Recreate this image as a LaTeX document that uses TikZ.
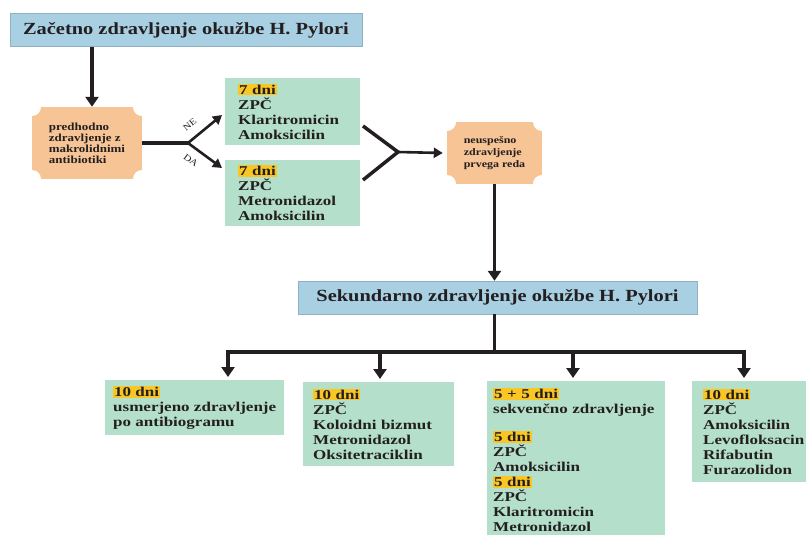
\documentclass[tikz,border=0pt]{standalone}
\usepackage{fontspec}
\setmainfont{Liberation Serif}[FakeStretch=1.2]
\newfontfamily\drugfont{Liberation Serif}[FakeStretch=1.26]
\usepackage{xcolor}
\usepackage{tikz}
\usetikzlibrary{arrows.meta}

\definecolor{titleblue}{HTML}{A9D0E2}
\definecolor{drugsgreen}{HTML}{B4DFCB}
\definecolor{plaqueorange}{HTML}{F6C495}
\definecolor{dayyellow}{HTML}{F9C623}
\definecolor{inkblack}{HTML}{231F20}
\setlength{\fboxsep}{1pt}
\newcommand{\days}[1]{\colorbox{dayyellow}{#1}}

\tikzset{
  titlebox/.style={fill=titleblue, draw=titleblue!85!black, line width=0.4pt, text=inkblack,
    font=\fontsize{17}{20}\selectfont\bfseries, minimum height=33pt, inner sep=0pt},
  drugbox/.style={fill=drugsgreen, anchor=north west, align=left, inner ysep=5pt, text=inkblack,
    font=\drugfont\fontsize{13.5}{15}\selectfont\bfseries},
  plaque/.style={fill=plaqueorange, align=left, inner sep=0pt, text=inkblack,
    path picture={\foreach \c in {north west,north east,south west,south east}
      \fill[white] (path picture bounding box.\c) circle (9pt);}},
  link/.style={draw=inkblack, line width=3.5pt},
  arr/.style={link, -{Triangle[length=10pt, width=13pt]}},
  thinarr/.style={draw=inkblack, line width=2.6pt, -{Triangle[length=9pt, width=10pt]}},
  branchlabel/.style={font=\fontsize{9}{10}\selectfont, text=inkblack, inner sep=1pt}
}

\begin{document}
\begin{tikzpicture}[x=1pt, y=-1pt]
  \useasboundingbox (0,0) rectangle (806,535);

  % first line treatment
  \node[titlebox, minimum width=352pt] (zacetno) at (186,30) {Začetno zdravljenje okužbe H. Pylori};
  \node[plaque, minimum width=110pt, minimum height=72pt, font=\fontsize{10.8}{11}\selectfont\bfseries]
    (predhodno) at (87,143) {predhodno\\zdravljenje z\\makrolidnimi\\antibiotiki};
  \node[drugbox, inner xsep=13pt, text width=109pt, minimum height=67pt] (klaritro) at (225,78)
    {\days{7 dni}\\ZPČ\\Klaritromicin\\Amoksicilin};
  \node[drugbox, inner xsep=13pt, text width=109pt, minimum height=65pt] (metro) at (225,160)
    {\days{7 dni}\\ZPČ\\Metronidazol\\Amoksicilin};
  \node[plaque, minimum width=95pt, minimum height=62pt, font=\fontsize{10}{11.7}\selectfont\bfseries]
    (neuspesno) at (494.5,153) {neuspešno\\zdravljenje\\prvega reda};

  % second line treatment
  \node[titlebox, minimum width=399pt] (sekundarno) at (497.5,297.5) {Sekundarno zdravljenje okužbe H. Pylori};
  \node[drugbox, inner xsep=6pt, minimum width=179pt, minimum height=55pt] (usmerjeno) at (105,380)
    {\days{10 dni}\\usmerjeno zdravljenje\\po antibiogramu};
  \node[drugbox, inner xsep=10pt, text width=131pt, minimum height=84pt] (bizmut) at (303,382)
    {\days{10 dni}\\ZPČ\\Koloidni bizmut\\Metronidazol\\Oksitetraciklin};
  \node[drugbox, inner xsep=6pt, text width=166pt, minimum height=158pt] (sekvencno) at (487,381)
    {\days{5 + 5 dni}\\sekvenčno zdravljenje\\[13pt]\days{5 dni}\\ZPČ\\Amoksicilin\\\days{5 dni}\\ZPČ\\Klaritromicin\\Metronidazol};
  \node[drugbox, inner xsep=11pt, text width=104pt, minimum height=101pt] (furazo) at (692,381)
    {\days{10 dni}\\ZPČ\\Amoksicilin\\Levofloksacin\\Rifabutin\\Furazolidon};

  \coordinate (split) at (188,143);
  \coordinate (neTip) at (222,115);
  \coordinate (daTip) at (222,168);
  \coordinate (neOut) at (363,126);
  \coordinate (daOut) at (363,180);
  \coordinate (merge) at (398,152);
  \coordinate (b1) at (228,352);
  \coordinate (b2) at (380,352);
  \coordinate (b3) at (573,352);
  \coordinate (b4) at (744,352);

  \draw[arr] ([xshift=5pt]zacetno.south -| predhodno) -- ([xshift=5pt]predhodno.north);
  \draw[link] (predhodno.east) -- (split);
  \draw[thinarr] (split) -- node[branchlabel, pos=0.3, above=8pt, sloped] {NE} (neTip);
  \draw[thinarr] (split) -- node[branchlabel, pos=0.3, below=7pt, sloped] {DA} (daTip);
  \draw[link] (neOut) -- (merge) -- (daOut);
  \draw[thinarr] (merge) -- ([xshift=-4pt]neuspesno.west);
  \draw[arr] (neuspesno.south) -- (neuspesno.south |- sekundarno.north);
  \draw[link] (neuspesno.south |- sekundarno.south) -- (neuspesno.south |- b1);
  \draw[link, line cap=rect] (b1) -- (b4);
  \foreach \b/\n in {b1/usmerjeno, b2/bizmut, b3/sekvencno, b4/furazo}
    \draw[arr] (\b) -- ([yshift=3pt]\b |- \n.north);
\end{tikzpicture}
\end{document}
